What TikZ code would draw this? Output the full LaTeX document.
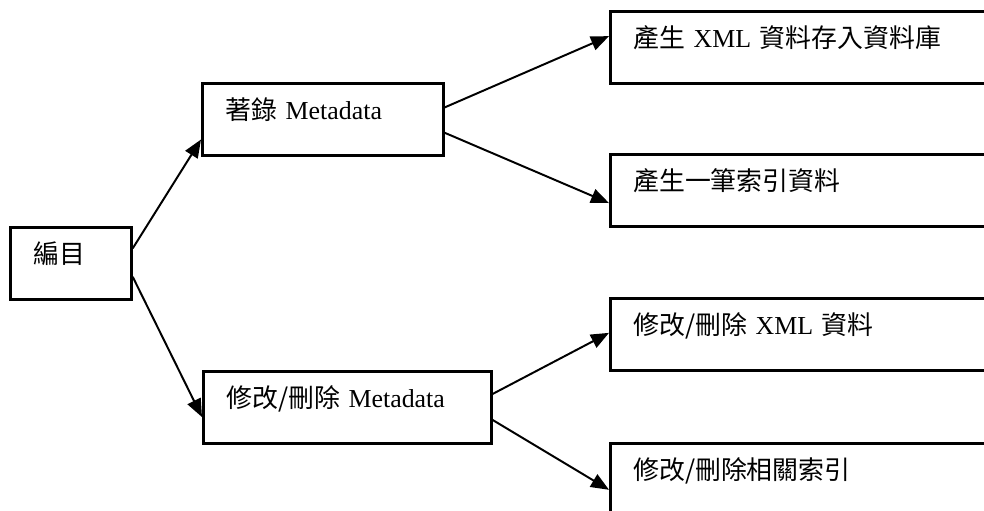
\documentclass[tikz,border=0pt]{standalone}
\usepackage{fontspec}
\setmainfont{Liberation Serif}
\newfontfamily\cjk{Noto Sans CJK TC}
\usetikzlibrary{arrows.meta,calc}

\begin{document}
\begin{tikzpicture}[x=0.025cm,y=-0.025cm,
  box/.style={draw,line width=1.9pt,anchor=north west,inner xsep=0.575cm,inner ysep=0pt,
    text height=0.9cm,text depth=0.9cm,align=left,font=\fontsize{18.4pt}{22pt}\selectfont},
  link/.style={line width=1.4pt,-{Triangle[length=0.45cm,width=0.36cm]}}]
 \path[use as bounding box,clip] (0,0) rectangle (984,511);
 \node[box,text width=1.875cm] (bm) at (9,226) {\cjk 編目};
 \node[box,text width=4.875cm] (zl) at (201,82) {{\cjk 著錄} Metadata};
 \node[box,text width=6.05cm] (xg) at (202,370) {{\cjk 修改/刪除} Metadata};
 \node[box,text width=8.85cm] (xml) at (609,10) {{\cjk 產生} XML {\cjk 資料存入資料庫}};
 \node[box,text width=8.85cm] (idx) at (609,153) {\cjk 產生一筆索引資料};
 \node[box,text width=8.85cm] (dxml) at (609,297) {{\cjk 修改/刪除} XML {\cjk 資料}};
 \node[box,text width=8.85cm] (didx) at (609,442) {\cjk 修改/刪除相關索引};
 \draw[link] ($(bm.north east)!0.3!(bm.south east)$) -- ($(zl.north west)!0.77!(zl.south west)$);
 \draw[link] ($(bm.north east)!0.68!(bm.south east)$) -- ($(xg.north west)!0.63!(xg.south west)$);
 \draw[link] ($(zl.north east)!0.34!(zl.south east)$) -- ($(xml.north west)!0.35!(xml.south west)$);
 \draw[link] ($(zl.north east)!0.68!(zl.south east)$) -- ($(idx.north west)!0.67!(idx.south west)$);
 \draw[link] ($(xg.north east)!0.32!(xg.south east)$) -- ($(dxml.north west)!0.48!(dxml.south west)$);
 \draw[link] ($(xg.north east)!0.67!(xg.south east)$) -- ($(didx.north west)!0.64!(didx.south west)$);
\end{tikzpicture}
\end{document}
